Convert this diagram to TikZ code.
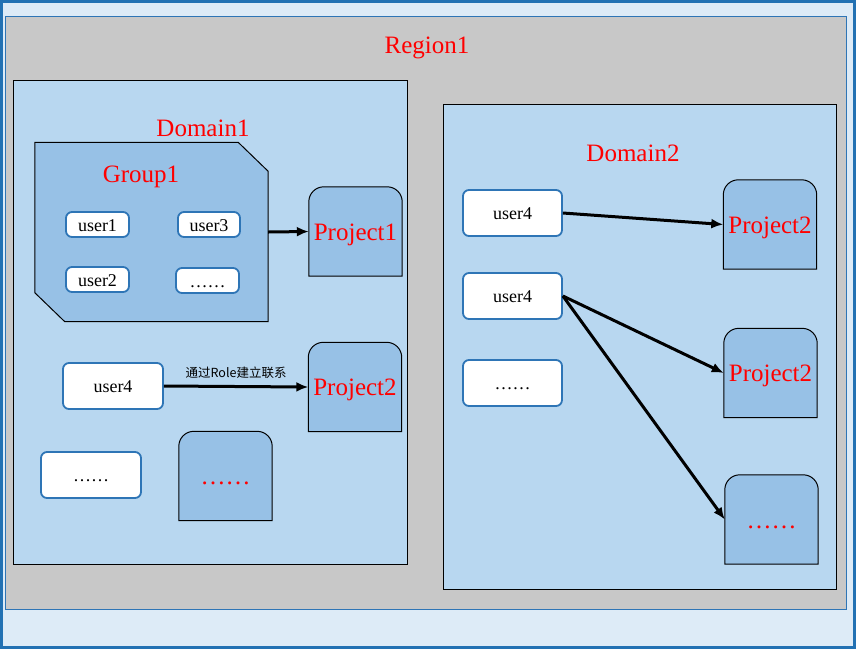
\documentclass[tikz,border=0pt]{standalone}
\usepackage{fontspec}
\setmainfont{Liberation Serif}
\newfontfamily\cjkfont{Noto Sans CJK SC}
\usetikzlibrary{positioning, arrows.meta}
\definecolor{rframe}{HTML}{2271B3}
\definecolor{rpale}{HTML}{DDEBF7}
\definecolor{rgrey}{HTML}{C8C8C8}
\definecolor{dblue}{HTML}{B8D7F0}
\definecolor{pblue}{HTML}{97C1E6}
\definecolor{ublue}{HTML}{2E75B6}

\begin{document}
\begin{tikzpicture}[x=1pt, y=-1pt,
        title/.style={text=red, inner sep=0pt, text height=17pt, text depth=0pt, font=\fontsize{25}{27}\selectfont},
        user/.style={draw=ublue, line width=1.8pt, fill=white, rounded corners=6pt, inner sep=0pt, text height=13pt, text depth=0pt, font=\fontsize{18}{20}\selectfont},
        project/.style={inner sep=0pt, minimum width=93pt, minimum height=89pt, text=red, text height=17pt, text depth=0pt, font=\fontsize{25}{27}\selectfont},
        projshape/.style={draw=black, line width=1pt, fill=pblue},
        link/.style={line width=3pt, -{Latex[length=12pt, width=10pt]}}]
        \useasboundingbox (0,0) rectangle (856,649);
        % background
        \draw[draw=rframe, fill=rpale, line width=3pt] (1.5,1.5) rectangle (854.5,647.5);
        \draw[draw=ublue, fill=rgrey, line width=0.8pt] (5,16) rectangle (846,609);
        \node[title] (region) at (427,44.5) {Region1};

        % domains
        \draw[fill=dblue, line width=1pt] (13,80) rectangle (407,564);
        \draw[fill=dblue, line width=1pt] (443,104) rectangle (836,589);
        \node[title] (dom1) at (203,127.5) {Domain1};
        \node[title] (dom2) at (633,152.5) {Domain2};

        % group
        \node[inner sep=0pt, minimum width=233pt, minimum height=179pt] (group) at (151.5,232) {};
        \draw[fill=pblue, line width=1pt] (group.north west) -- ([xshift=-30pt]group.north east)
            -- ([yshift=-29pt]group.north east) -- (group.south east)
            -- ([xshift=30pt]group.south west) -- ([yshift=29pt]group.south west) -- cycle;
        \node[title] (grp) at (141,173.5) {Group1};
        \node[user, minimum width=63pt, minimum height=25pt] (u1) at (97.5,224.5) {user1};
        \node[user, minimum width=62pt, minimum height=25pt] (u3) at (209,224.5) {user3};
        \node[user, minimum width=63pt, minimum height=25pt] (u2) at (97.5,279.5) {user2};
        \node[user, minimum width=63pt, minimum height=25pt] (ugdots) at (207.5,280.5) {……};

        % projects
        \node[project] (p1) at (355.5,231.5) {};
        \node[project] (p2) at (355,387) {};
        \node[project] (pdots) at (225.5,476) {};
        \node[project] (q2a) at (770,224.5) {};
        \node[project] (q2b) at (770.5,373) {};
        \node[project] (qdots) at (771.5,519.5) {};
        \foreach \p in {p1,p2,pdots,q2a,q2b,qdots}
            \draw[projshape] (\p.south west) [rounded corners=15pt] -- (\p.north west) -- (\p.north east) [sharp corners] -- (\p.south east) -- cycle;
        \node[project] at (p1) {Project1};
        \node[project] at (p2) {Project2};
        \node[project] at (pdots) {……};
        \node[project] at (q2a) {Project2};
        \node[project] at (q2b) {Project2};
        \node[project] at (qdots) {……};

        % users
        \node[user, minimum width=100pt, minimum height=46pt] (u4) at (113,386) {user4};
        \node[user, minimum width=100pt, minimum height=46pt] (udots) at (91,475) {……};
        \node[user, minimum width=99pt, minimum height=46pt] (v4a) at (512.5,213) {user4};
        \node[user, minimum width=99pt, minimum height=46pt] (v4b) at (512.5,296) {user4};
        \node[user, minimum width=99pt, minimum height=46pt] (vdots) at (512.5,383) {……};

        % links
        \draw[link] (group.east) -- (p1.west);
        \draw[link] (u4.east) -- node[above=3pt, font=\cjkfont\fontsize{12.5}{14}\selectfont] {通过Role建立联系} (p2.west);
        \draw[link] (v4a.east) -- (q2a.west);
        \draw[link] (v4b.east) -- (q2b.west);
        \draw[link] (v4b.east) -- (qdots.west);
    \end{tikzpicture}
\end{document}
